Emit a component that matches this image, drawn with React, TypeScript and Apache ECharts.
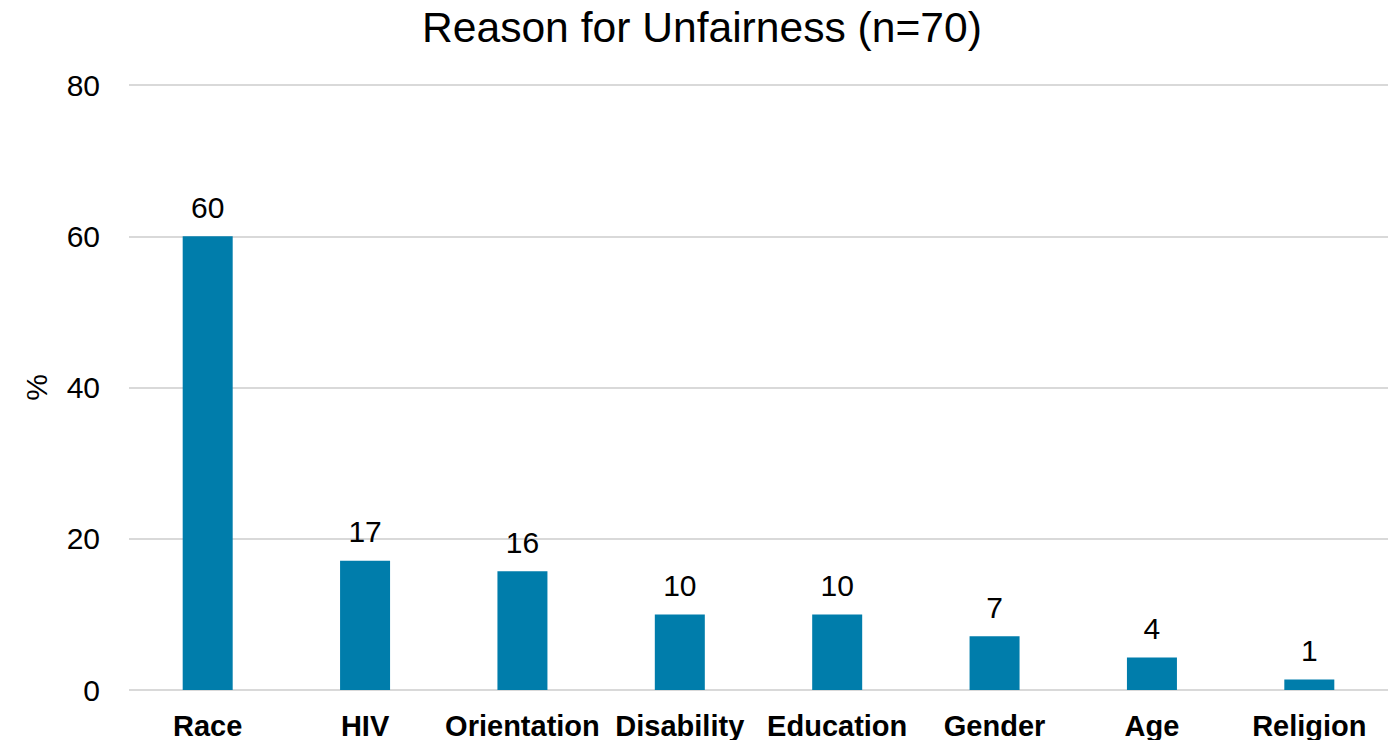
import React, { useEffect, useRef } from "react";
import * as echarts from "echarts";

// Share of respondents (%) citing each reason, n = 70
const categories = ["Race", "HIV", "Orientation", "Disability", "Education", "Gender", "Age", "Religion"];
const percentValues = [60, 17.1, 15.7, 10, 10, 7.1, 4.3, 1.4];
const yTicks = { min: 0, max: 80, interval: 20 };

const FONT = "'Liberation Sans', Arial, Helvetica, sans-serif";

export default function App() {
  const ref = useRef<HTMLDivElement>(null);

  useEffect(() => {
    document.body.style.margin = "0";
    if (!ref.current) return;
    const chart = echarts.init(ref.current, undefined, { renderer: "svg" });
    chart.setOption({
      animation: false,
      backgroundColor: "#ffffff",
      title: {
        text: "Reason for Unfairness (n=70)",
        left: 417,
        top: 0,
        textStyle: { fontFamily: FONT, fontSize: 42.6, fontWeight: "normal", color: "#000000" },
      },
      grid: { left: 129, top: 85, width: 1264, height: 605, containLabel: false },
      xAxis: {
        type: "category",
        data: categories,
        axisLine: { show: false },
        axisTick: { show: false },
        axisLabel: {
          interval: 0,
          margin: 21,
          fontFamily: FONT,
          fontSize: 29,
          fontWeight: "bold",
          color: "#000000",
        },
      },
      yAxis: {
        type: "value",
        min: yTicks.min,
        max: yTicks.max,
        interval: yTicks.interval,
        name: "%",
        nameLocation: "middle",
        nameRotate: 90,
        nameGap: 78,
        nameTextStyle: { fontFamily: FONT, fontSize: 30, color: "#000000" },
        axisLine: { show: false },
        axisTick: { show: false },
        axisLabel: { margin: 29, fontFamily: FONT, fontSize: 30, color: "#000000" },
        splitLine: { lineStyle: { color: "#d9d9d9", width: 2 } },
      },
      series: [
        {
          type: "bar",
          data: percentValues,
          barWidth: 50,
          itemStyle: { color: "#007dab" },
          label: {
            show: true,
            position: "top",
            distance: 14,
            fontFamily: FONT,
            fontSize: 30,
            color: "#000000",
            formatter: (p: any) => String(Math.round(p.value)),
          },
        },
      ],
    });
    return () => chart.dispose();
  }, []);

  return <div ref={ref} style={{ width: 1388, height: 740 }} />;
}
